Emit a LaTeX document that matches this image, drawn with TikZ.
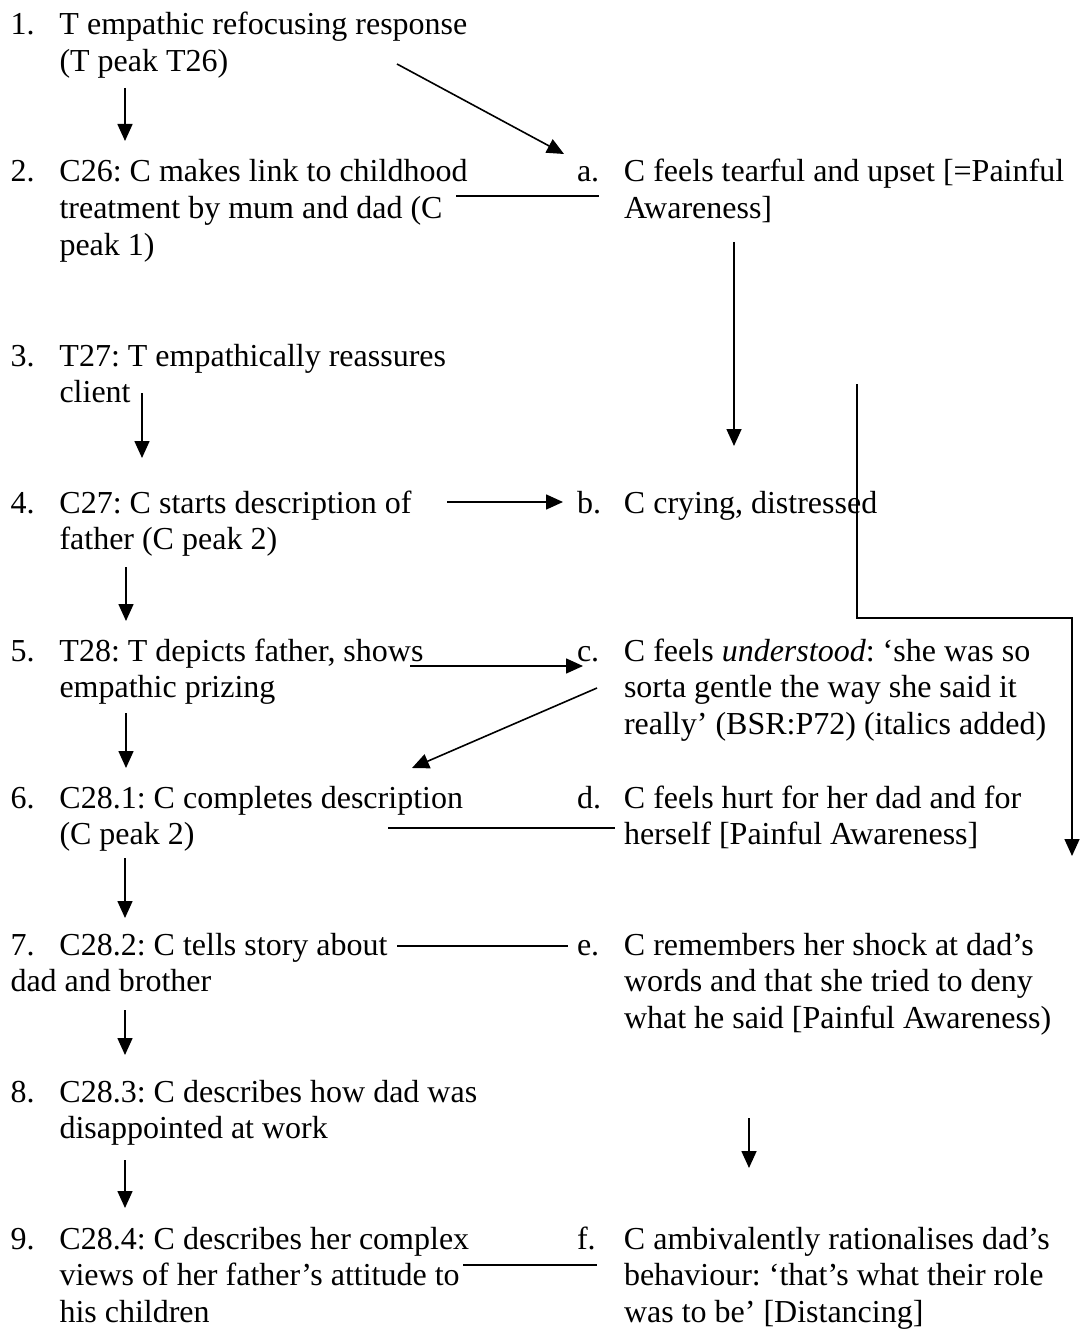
\documentclass[tikz,border=0pt]{standalone}
\usepackage{fontspec}
\setmainfont{Liberation Serif}
\usetikzlibrary{arrows.meta}
\frenchspacing
\begin{document}
\begin{tikzpicture}[x=1pt,y=-1pt,
  item/.style={anchor=base west,inner sep=0pt,outer sep=0pt,font=\fontsize{32}{36.8}\selectfont\frenchspacing},
  conn/.style={line width=1.6pt},
  arr/.style={conn,-{Triangle[length=17pt,width=15pt]}}]
\useasboundingbox (0,0) rectangle (1080,1329);
\fill[white] (0,0) rectangle (1080,1329);
% left column
\node[item] (n1) at (10.5,35) {\begin{tabular}[t]{@{}p{49pt}@{}l@{}}1.&T empathic refocusing response\\&(T peak T26)\end{tabular}};
\node[item] (n2) at (10.5,182) {\begin{tabular}[t]{@{}p{49pt}@{}l@{}}2.&C26: C makes link to childhood\\&treatment by mum and dad (C\\&peak 1)\end{tabular}};
\node[item] (n3) at (10.5,366) {\begin{tabular}[t]{@{}p{49pt}@{}l@{}}3.&T27: T empathically reassures\\&client\end{tabular}};
\node[item] (n4) at (10.5,513) {\begin{tabular}[t]{@{}p{49pt}@{}l@{}}4.&C27: C starts description of\\&father (C peak 2)\end{tabular}};
\node[item] (n5) at (10.5,661) {\begin{tabular}[t]{@{}p{49pt}@{}l@{}}5.&T28: T depicts father, shows\\&empathic prizing\end{tabular}};
\node[item] (n6) at (10.5,808) {\begin{tabular}[t]{@{}p{49pt}@{}l@{}}6.&C28.1: C completes description\\&(C peak 2)\end{tabular}};
\node[item] (n7) at (10.5,955) {\begin{tabular}[t]{@{}p{49pt}@{}l@{}}7.&C28.2: C tells story about\\\multicolumn{2}{@{}l@{}}{dad and brother}\end{tabular}};
\node[item] (n8) at (10.5,1102) {\begin{tabular}[t]{@{}p{49pt}@{}l@{}}8.&C28.3: C describes how dad was\\&disappointed at work\end{tabular}};
\node[item] (n9) at (10.5,1249) {\begin{tabular}[t]{@{}p{49pt}@{}l@{}}9.&C28.4: C describes her complex\\&views of her father’s attitude to\\&his children\end{tabular}};
% right column
\node[item] (ra) at (577,182) {\begin{tabular}[t]{@{}p{47pt}@{}l@{}}a.&C feels tearful and upset [=Painful\\&Awareness]\end{tabular}};
\node[item] (rb) at (577,513) {\begin{tabular}[t]{@{}p{47pt}@{}l@{}}b.&C crying, distressed\end{tabular}};
\node[item] (rc) at (577,661) {\begin{tabular}[t]{@{}p{47pt}@{}l@{}}c.&C feels \textit{understood}: ‘she was so\\&sorta gentle the way she said it\\&really’ (BSR:P72) (italics added)\end{tabular}};
\node[item] (rd) at (577,808) {\begin{tabular}[t]{@{}p{47pt}@{}l@{}}d.&C feels hurt for her dad and for\\&herself [Painful Awareness]\end{tabular}};
\node[item] (re) at (577,955) {\begin{tabular}[t]{@{}p{47pt}@{}l@{}}e.&C remembers her shock at dad’s\\&words and that she tried to deny\\&what he said [Painful Awareness)\end{tabular}};
\node[item] (rf) at (577,1249) {\begin{tabular}[t]{@{}p{47pt}@{}l@{}}f.&C ambivalently rationalises dad’s\\&behaviour: ‘that’s what their role\\&was to be’ [Distancing]\end{tabular}};
% connector end points
\coordinate (p1a) at (125,88);   \coordinate (p1b) at (125,141);
\coordinate (p1c) at (397,64);   \coordinate (p1d) at (564,154);
\coordinate (p2a) at (456,196);  \coordinate (p2b) at (599,196);
\coordinate (pa1) at (734,242);  \coordinate (pa2) at (734,446);
\coordinate (p3a) at (142,393);  \coordinate (p3b) at (142,458);
\coordinate (p4a) at (447,502);  \coordinate (p4b) at (563,502);
\coordinate (pl1) at (857,384);  \coordinate (pl2) at (857,618);
\coordinate (pl3) at (1072,618); \coordinate (pl4) at (1072,856);
\coordinate (p4c) at (126,567);  \coordinate (p4d) at (126,621);
\coordinate (p5a) at (410,666);  \coordinate (p5b) at (583,666);
\coordinate (pc1) at (597,688);  \coordinate (pc2) at (412,768);
\coordinate (p5c) at (126,713);  \coordinate (p5d) at (126,768);
\coordinate (p6a) at (388,828);  \coordinate (p6b) at (615,828);
\coordinate (p6c) at (125,858);  \coordinate (p6d) at (125,918);
\coordinate (p7a) at (397,946);  \coordinate (p7b) at (568,946);
\coordinate (p7c) at (125,1010); \coordinate (p7d) at (125,1055);
\coordinate (pe1) at (749,1118); \coordinate (pe2) at (749,1168);
\coordinate (p8a) at (125,1160); \coordinate (p8b) at (125,1208);
\coordinate (p9a) at (463,1265); \coordinate (p9b) at (597,1265);
% connectors
\draw[arr] (p1a) -- (p1b);
\draw[arr] (p1c) -- (p1d);
\draw[conn] (p2a) -- (p2b);
\draw[arr] (pa1) -- (pa2);
\draw[arr] (p3a) -- (p3b);
\draw[arr] (p4a) -- (p4b);
\draw[arr] (pl1) -- (pl2) -- (pl3) -- (pl4);
\draw[arr] (p4c) -- (p4d);
\draw[arr] (p5a) -- (p5b);
\draw[arr] (pc1) -- (pc2);
\draw[arr] (p5c) -- (p5d);
\draw[conn] (p6a) -- (p6b);
\draw[arr] (p6c) -- (p6d);
\draw[conn] (p7a) -- (p7b);
\draw[arr] (p7c) -- (p7d);
\draw[arr] (pe1) -- (pe2);
\draw[arr] (p8a) -- (p8b);
\draw[conn] (p9a) -- (p9b);
\end{tikzpicture}
\end{document}
